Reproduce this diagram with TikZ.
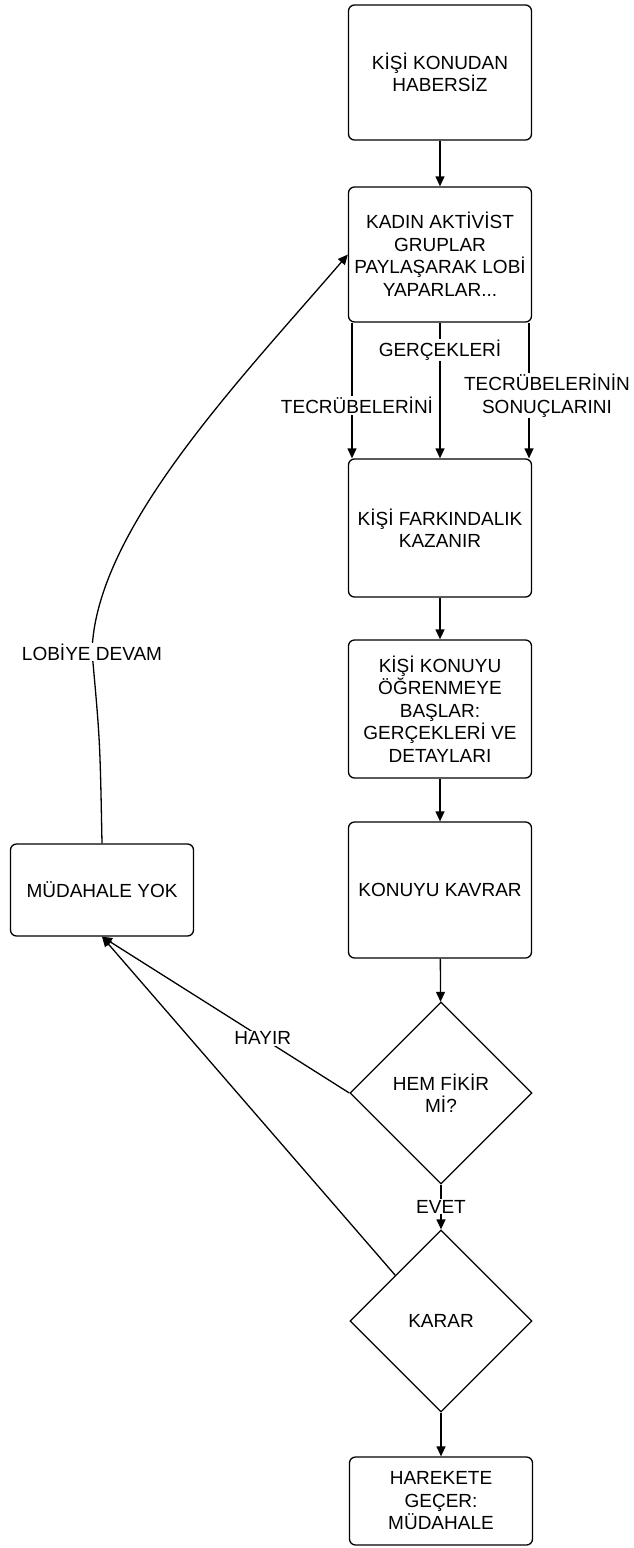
\documentclass[tikz,border=0pt]{standalone}
\usepackage{fontspec}
\setmainfont{Liberation Sans}
\usetikzlibrary{shapes.geometric,arrows.meta}
\begin{document}
\begin{tikzpicture}[x=1pt,y=-1pt,
  font=\fontsize{19}{22.5}\selectfont,
  box/.style={rectangle,draw,rounded corners=6pt,minimum width=183pt,align=center,line width=1.3pt},
  decision/.style={diamond,draw,minimum width=182pt,minimum height=182pt,inner sep=0pt,align=center,line width=1.3pt},
  lbl/.style={fill=white,inner sep=1pt,align=center},
  arr/.style={line width=1.3pt,-{Triangle[length=10pt,width=9pt]}}]
\useasboundingbox (0,0) rectangle (634,1548);
\node[box,minimum height=135pt] (habersiz) at (440,72.5) {KİŞİ KONUDAN\\HABERSİZ};
\node[box,minimum height=135pt] (kadin) at (440,254.5) {KADIN AKTİVİST\\GRUPLAR\\PAYLAŞARAK LOBİ\\YAPARLAR...};
\node[box,minimum height=138pt] (farkinda) at (440,528) {KİŞİ FARKINDALIK\\KAZANIR};
\node[box,minimum height=138pt] (ogrenme) at (440,709) {KİŞİ KONUYU\\ÖĞRENMEYE\\BAŞLAR:\\GERÇEKLERİ VE\\DETAYLARI};
\node[box,minimum height=136pt] (kavrar) at (440,890) {KONUYU KAVRAR};
\node[decision] (hemfikir) at (441,1093) {HEM FİKİR\\Mİ?};
\node[decision] (karar) at (441,1321) {KARAR};
\node[box,minimum height=88pt] (harekete) at (441,1501) {HAREKETE\\GEÇER:\\MÜDAHALE};
\node[box,minimum height=92pt] (yok) at (102,890) {MÜDAHALE YOK};
\draw[arr] (habersiz) -- (kadin);
\draw[arr] ([xshift=-88pt]kadin.south) -- node[lbl,pos=0.61,xshift=5pt] {TECRÜBELERİNİ} ([xshift=-88pt]farkinda.north);
\draw[arr] (kadin) -- node[lbl,pos=0.2] {GERÇEKLERİ} (farkinda);
\draw[arr] ([xshift=89pt]kadin.south) -- node[lbl,pos=0.54,xshift=18pt] {TECRÜBELERİNİN\\SONUÇLARINI} ([xshift=89pt]farkinda.north);
\draw[arr] (farkinda) -- (ogrenme);
\draw[arr] (ogrenme) -- (kavrar);
\draw[arr] (kavrar) -- (hemfikir);
\draw[arr] (hemfikir) -- node[lbl,pos=0.49] {EVET} (karar);
\draw[arr] (karar) -- (harekete);
\draw[arr] (hemfikir.west) -- node[lbl,pos=0.35] {HAYIR} (yok.south);
\draw[arr] (karar.north west) -- (yok.south);
\draw[arr] (yok.north) .. controls (100,740) .. (92,652) node[lbl] {LOBİYE DEVAM} .. controls (95,530) and (240,380) .. (kadin.west);
\end{tikzpicture}
\end{document}
